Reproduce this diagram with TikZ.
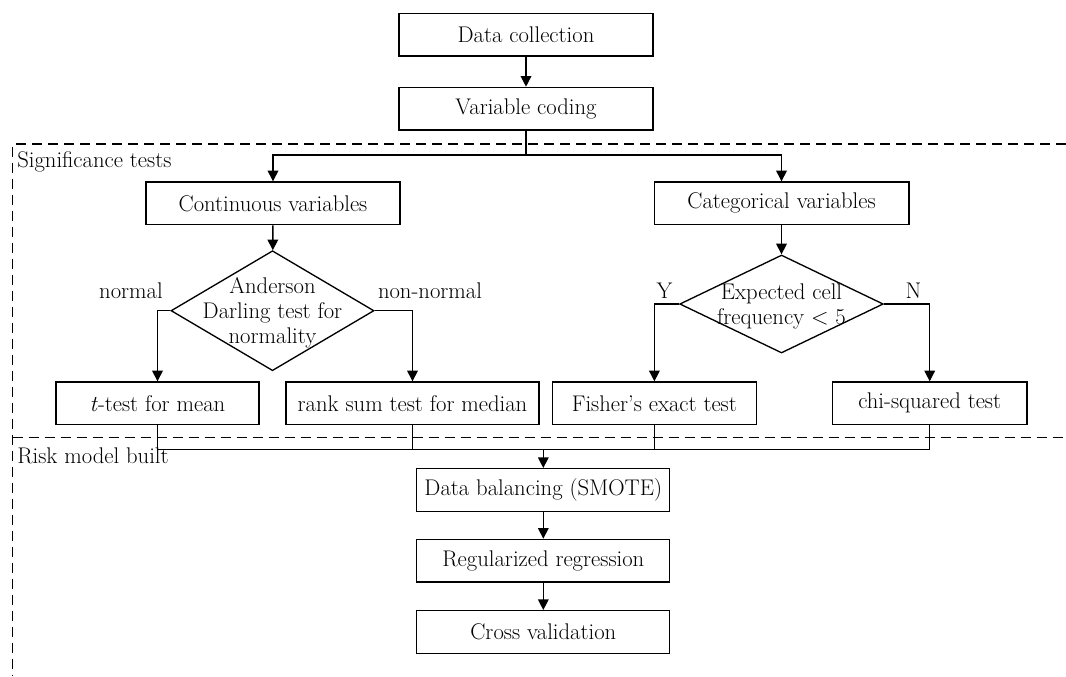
\documentclass[tikz,border=0pt]{standalone}
\usetikzlibrary{arrows.meta,shapes.geometric}
\newcommand\myfs{\fontsize{17}{18.75}\selectfont}
\tikzset{
  box/.style={draw, line width=1pt, minimum height=32pt, inner sep=0pt, font=\myfs},
  dia/.style={draw, shape=diamond, line width=1pt, inner sep=0pt, font=\myfs},
  lbl/.style={inner sep=0pt, font=\myfs},
  conn/.style={line width=1pt},
  arr/.style={line width=1pt, -{Triangle[length=8pt,width=8pt]}},
  region/.style={line width=1.1pt, dash pattern=on 7.5pt off 4.5pt},
}
\begin{document}
\begin{tikzpicture}[x=0.75pt,y=-0.75pt]
\useasboundingbox (0,0) rectangle (1066,676);
% regions
\draw[region] (1066,144) -- (12.7,144) -- (12.7,676);
\draw[region] (12.7,437.7) -- (1066,437.7);
\node[lbl, anchor=west] (sig) at (17,162) {Significance tests};
\node[lbl, anchor=west] (risk) at (17,456) {Risk model built};
% boxes
\node[box, minimum width=190.5pt] (dc) at (526,34.7) {Data collection};
\node[box, minimum width=190.5pt] (vc) at (526,108.7) {Variable coding};
\node[box, minimum width=190.5pt] (cont) at (273,203.3) {Continuous variables};
\node[box, minimum width=191pt] (cat) at (781.5,203.3) {Categorical variables};
\node[dia, minimum width=152.25pt, minimum height=90pt] (d1) at (272.5,310.7)
  {\smash{\makebox[0pt]{\raisebox{-6.5pt}{\begin{tabular}{@{}c@{}}Anderson\\Darling test for\\normality\end{tabular}}}}};
\node[dia, minimum width=152.7pt, minimum height=73.5pt] (d2) at (781.5,304)
  {\smash{\makebox[0pt]{\raisebox{-6.5pt}{\begin{tabular}{@{}c@{}}Expected cell\\frequency ${<}$ 5\end{tabular}}}}};
\node[box, minimum width=152.25pt] (tt) at (157.5,403.3) {\textit{t}-test for mean};
\node[box, minimum width=189.75pt] (rs) at (412.5,403.3) {rank sum test for median};
\node[box, minimum width=153pt] (fe) at (654.4,403.3) {Fisher's exact test};
\node[box, minimum width=145.9pt] (cs) at (929.7,403.3) {chi-squared test};
\node[box, minimum width=189.75pt] (db) at (543.3,490) {Data balancing (SMOTE)};
\node[box, minimum width=189.75pt] (rr) at (543.3,560.7) {Regularized regression};
\node[box, minimum width=189.75pt] (cv) at (543.3,632) {Cross validation};
% branch labels
\node[lbl] (lnorm) at (131,291) {normal};
\node[lbl] (lnon) at (430,291) {non-normal};
\node[lbl] (ly) at (664.5,291) {Y};
\node[lbl] (ln) at (913.5,291) {N};
% connectors
\coordinate (j1) at (526,155);
\coordinate (j2) at (543.3,449.3);
\draw[arr] (dc) -- (vc);
\draw[conn] (vc.south) -- (j1);
\draw[arr] (j1) -| (cont.north);
\draw[arr] (j1) -| (cat.north);
\draw[arr] (cont) -- (d1);
\draw[arr] (cat) -- (d2);
\draw[arr] (d1.west) -| (tt.north);
\draw[arr] (d1.east) -| (rs.north);
\draw[arr] (d2.west) -| (fe.north);
\draw[arr] (d2.east) -| (cs.north);
\draw[conn] (tt.south) |- (j2);
\draw[conn] (cs.south) |- (j2);
\draw[conn] (rs.south) -- (rs.south |- j2);
\draw[conn] (fe.south) -- (fe.south |- j2);
\draw[arr] (j2) -- (db.north);
\draw[arr] (db) -- (rr);
\draw[arr] (rr) -- (cv);
\end{tikzpicture}
\end{document}
